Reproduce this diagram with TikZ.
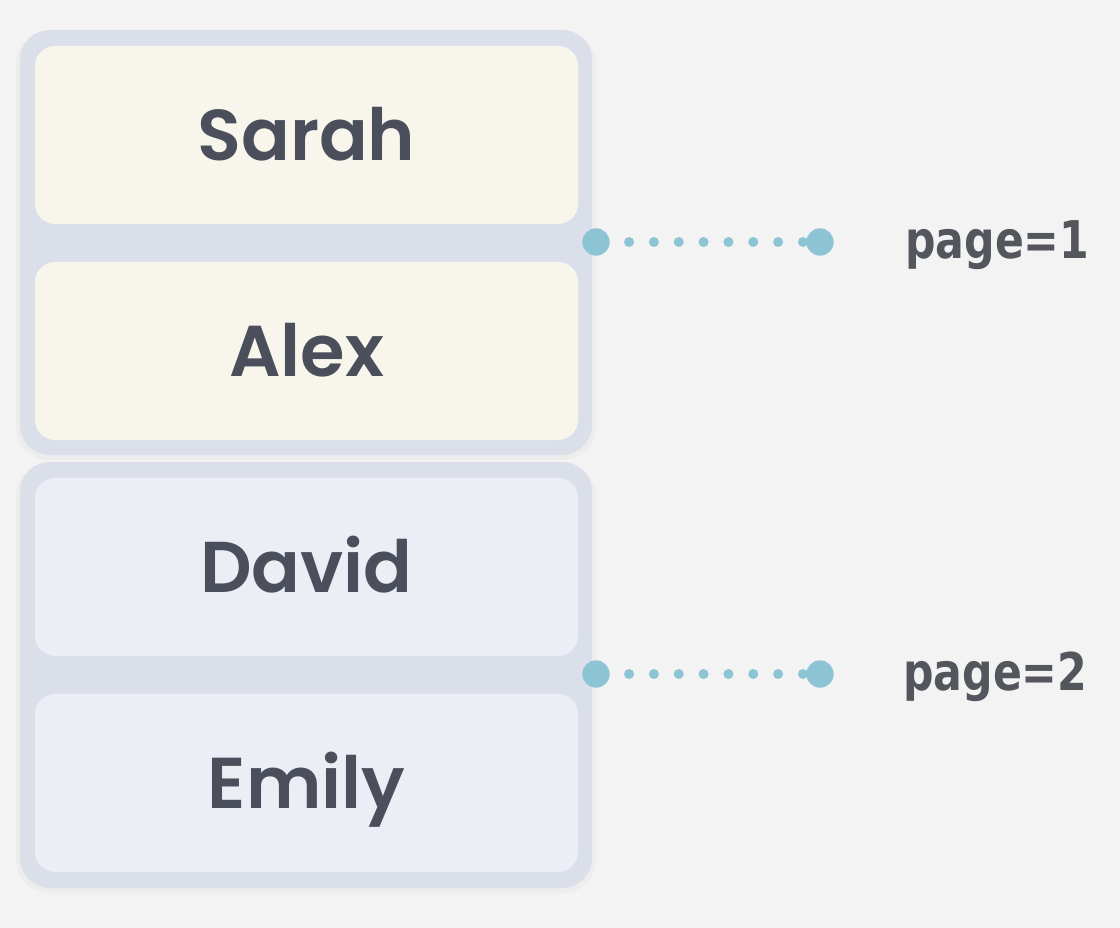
\documentclass[tikz,border=0pt]{standalone}
\usepackage{fontspec}
\setmainfont{Poppins}
\newfontfamily\namefont{Poppins SemiBold}
\newfontfamily\pagefont{DejaVu Sans}
\definecolor{bg}{HTML}{F3F3F3}
\definecolor{grp}{HTML}{DBDFE9}
\definecolor{yel}{HTML}{F8F6EC}
\definecolor{blu}{HTML}{ECEEF6}
\definecolor{dotc}{HTML}{8CC4D4}
\definecolor{txt}{HTML}{4B4F5B}
\definecolor{ptxt}{HTML}{53565D}
\begin{document}
\begin{tikzpicture}[x=1pt,y=-1pt,
  group/.style={fill=grp, rounded corners=30pt},
  item/.style={rounded corners=20pt, minimum width=543pt, minimum height=178pt, inner sep=0pt,
     text height=51pt, text depth=0pt,
     text=txt, font=\namefont\fontsize{72}{80}\selectfont},
  yitem/.style={item, fill=yel},
  bitem/.style={item, fill=blu},
  endpt/.style={circle, fill=dotc, minimum size=27pt, inner sep=0pt},
  dotline/.style={dotc, line width=10pt, line cap=round, dash pattern=on 0pt off 24.857pt},
  plabel/.style={text=ptxt, anchor=west, inner sep=0pt, xscale=0.82,
     font=\pagefont\fontsize{52}{58}\selectfont\bfseries},
  shadowbox/.style={fill=black, opacity=0.022, rounded corners=33pt}
]
\useasboundingbox (0,0) rectangle (1120,928);
\fill[bg] (0,0) rectangle (1120,928);
% faint shadow
\path[shadowbox] (16,31) rectangle (596,460);
\path[shadowbox] (16,463) rectangle (596,893);
% groups
\path[group] (20,30) rectangle (592,455);
\path[group] (20,462) rectangle (592,888);
% items
\node[yitem] (sarah) at (306.5,135) {Sarah};
\node[yitem] (alex)  at (306.5,351) {Alex};
\node[bitem] (david) at (306.5,567) {David};
\node[bitem] (emily) at (306.5,783) {Emily};
% connectors
\node[endpt] (l1) at (596,242) {};
\node[endpt] (r1) at (820,242) {};
\node[endpt] (l2) at (596,674) {};
\node[endpt] (r2) at (820,674) {};
\draw[dotline, shorten <=33pt, shorten >=17pt] (l1.center) -- (r1.center);
\draw[dotline, shorten <=33pt, shorten >=17pt] (l2.center) -- (r2.center);
\node[endpt] at (l1) {};
\node[endpt] at (r1) {};
\node[endpt] at (l2) {};
\node[endpt] at (r2) {};
% labels
\node[plabel] (p1) at (905,245) {page=1};
\node[plabel] (p2) at (903,677) {page=2};
\end{tikzpicture}
\end{document}
